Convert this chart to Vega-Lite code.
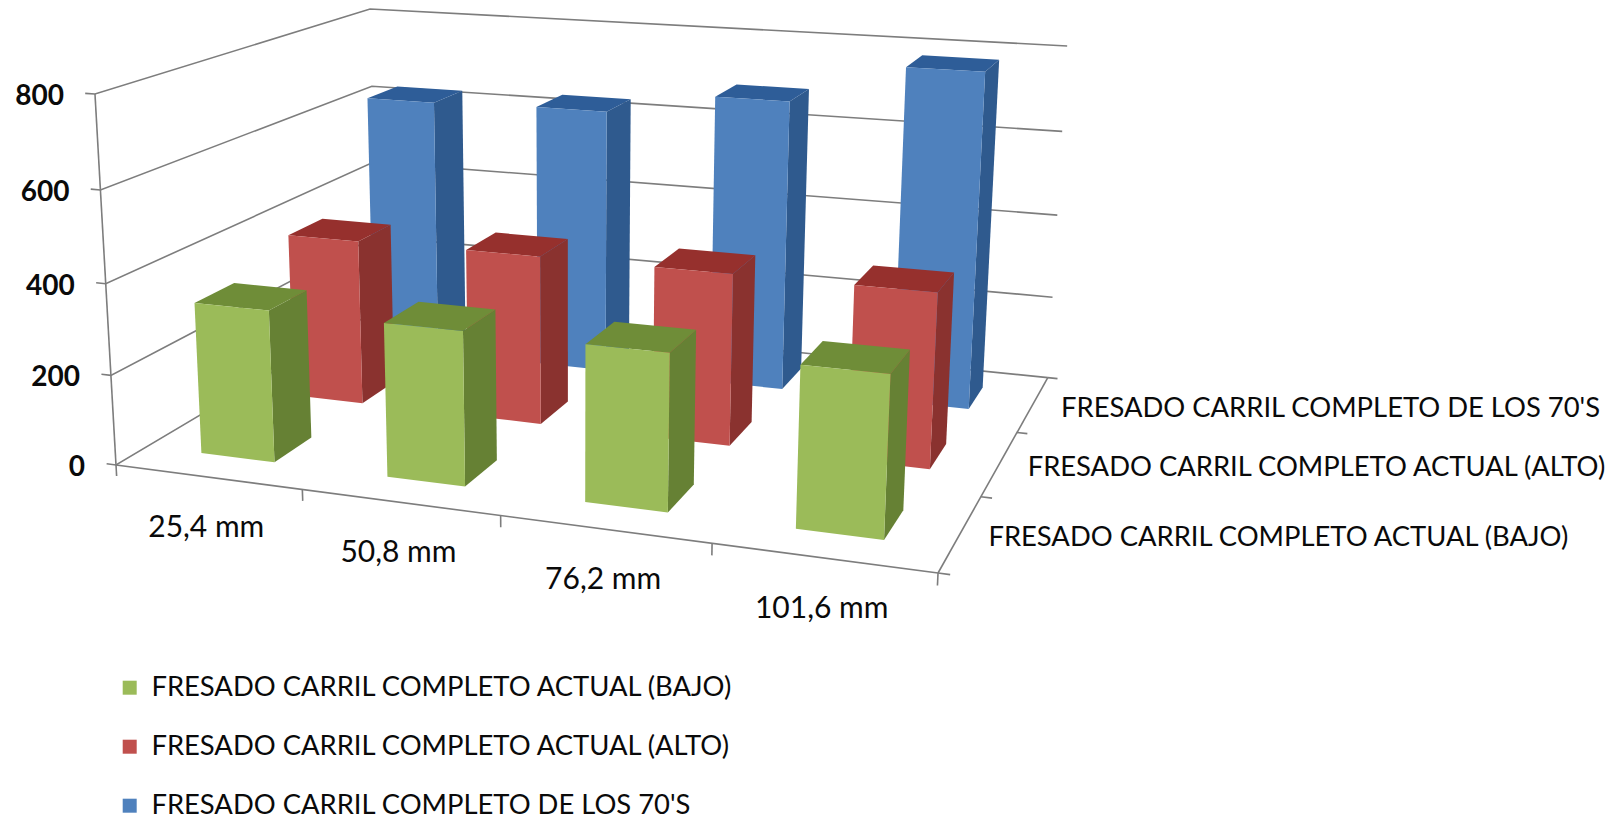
{
  "$schema": "https://vega.github.io/schema/vega-lite/v6.json",
  "width": 1623,
  "height": 817,
  "padding": 0,
  "autosize": "none",
  "background": "white",
  "config": {"view": {"stroke": null}, "text": {"font": "Lato", "color": "#0a0a0a"}},
  "layer": [
    {
      "data": {"values": [
        {"line":"grid 800","step":0,"u":-0.013,"v":0,"value":800},{"line":"grid 800","step":1,"u":0,"v":0,"value":800},{"line":"grid 800","step":2,"u":0,"v":1,"value":800},{"line":"grid 800","step":3,"u":1,"v":1,"value":800},
        {"line":"grid 600","step":0,"u":-0.013,"v":0,"value":600},{"line":"grid 600","step":1,"u":0,"v":0,"value":600},{"line":"grid 600","step":2,"u":0,"v":1,"value":600},{"line":"grid 600","step":3,"u":1,"v":1,"value":600},
        {"line":"grid 400","step":0,"u":-0.013,"v":0,"value":400},{"line":"grid 400","step":1,"u":0,"v":0,"value":400},{"line":"grid 400","step":2,"u":0,"v":1,"value":400},{"line":"grid 400","step":3,"u":1,"v":1,"value":400},
        {"line":"grid 200","step":0,"u":-0.013,"v":0,"value":200},{"line":"grid 200","step":1,"u":0,"v":0,"value":200},{"line":"grid 200","step":2,"u":0,"v":1,"value":200},{"line":"grid 200","step":3,"u":1,"v":1,"value":200},
        {"line":"grid 0","step":0,"u":-0.013,"v":0,"value":0},{"line":"grid 0","step":1,"u":0,"v":0,"value":0},{"line":"grid 0","step":2,"u":0,"v":1,"value":0},{"line":"grid 0","step":3,"u":1,"v":1,"value":0},
        {"line":"value axis","step":0,"u":0,"v":0,"value":0},{"line":"value axis","step":1,"u":0,"v":0,"value":800},
        {"line":"category axis","step":0,"u":0,"v":0,"value":0},{"line":"category axis","step":1,"u":1,"v":0,"value":0},
        {"line":"series axis","step":0,"u":1,"v":0,"value":0},{"line":"series axis","step":1,"u":1,"v":1,"value":0},
        {"line":"category tick 0","step":0,"u":0,"v":0,"value":0},{"line":"category tick 0","step":1,"u":0,"v":0,"value":-25},
        {"line":"category tick 1","step":0,"u":0.25,"v":0,"value":0},{"line":"category tick 1","step":1,"u":0.25,"v":0,"value":-25},
        {"line":"category tick 2","step":0,"u":0.5,"v":0,"value":0},{"line":"category tick 2","step":1,"u":0.5,"v":0,"value":-25},
        {"line":"category tick 3","step":0,"u":0.75,"v":0,"value":0},{"line":"category tick 3","step":1,"u":0.75,"v":0,"value":-25},
        {"line":"category tick 4","step":0,"u":1,"v":0,"value":0},{"line":"category tick 4","step":1,"u":1,"v":0,"value":-25},
        {"line":"series tick 0","step":0,"u":1,"v":0,"value":0},{"line":"series tick 0","step":1,"u":1.013,"v":0,"value":0},
        {"line":"series tick 1","step":0,"u":1,"v":0.3333,"value":0},{"line":"series tick 1","step":1,"u":1.013,"v":0.3333,"value":0},
        {"line":"series tick 2","step":0,"u":1,"v":0.6667,"value":0},{"line":"series tick 2","step":1,"u":1.013,"v":0.6667,"value":0},
        {"line":"series tick 3","step":0,"u":1,"v":1,"value":0},{"line":"series tick 3","step":1,"u":1.013,"v":1,"value":0}
      ]},
      "transform": [
        {"calculate": "datum.value/800", "as": "w"},
        {"calculate": "(116+708.9*datum.u+353.8*datum.v-25.2*datum.w)/(1-0.1206*datum.u+0.2455*datum.v-0.044*datum.w)", "as": "px"},
        {"calculate": "(465+38.9*datum.u-79.1*datum.v-375.1*datum.w)/(1-0.1206*datum.u+0.2455*datum.v-0.044*datum.w)", "as": "py"}
      ],
      "mark": {"type": "line", "color": "#7d7d7d", "strokeWidth": 1.6},
      "encoding": {
        "x": {"field": "px", "type": "quantitative", "axis": null, "scale": {"domain": [0, 1623], "nice": false, "zero": false}},
        "y": {"field": "py", "type": "quantitative", "axis": null, "scale": {"domain": [817, 0], "nice": false, "zero": false}},
        "detail": {"field": "line"},
        "order": {"field": "step", "type": "quantitative"}
      }
    },
    {
      "data": {"values": [
        {"category":"25,4 mm","serie":"FRESADO CARRIL COMPLETO DE LOS 70'S","valor":629},
        {"category":"50,8 mm","serie":"FRESADO CARRIL COMPLETO DE LOS 70'S","valor":635},
        {"category":"76,2 mm","serie":"FRESADO CARRIL COMPLETO DE LOS 70'S","valor":687},
        {"category":"101,6 mm","serie":"FRESADO CARRIL COMPLETO DE LOS 70'S","valor":781},
        {"category":"25,4 mm","serie":"FRESADO CARRIL COMPLETO ACTUAL (ALTO)","valor":385},
        {"category":"50,8 mm","serie":"FRESADO CARRIL COMPLETO ACTUAL (ALTO)","valor":388},
        {"category":"76,2 mm","serie":"FRESADO CARRIL COMPLETO ACTUAL (ALTO)","valor":388},
        {"category":"101,6 mm","serie":"FRESADO CARRIL COMPLETO ACTUAL (ALTO)","valor":388},
        {"category":"25,4 mm","serie":"FRESADO CARRIL COMPLETO ACTUAL (BAJO)","valor":337},
        {"category":"50,8 mm","serie":"FRESADO CARRIL COMPLETO ACTUAL (BAJO)","valor":336},
        {"category":"76,2 mm","serie":"FRESADO CARRIL COMPLETO ACTUAL (BAJO)","valor":335},
        {"category":"101,6 mm","serie":"FRESADO CARRIL COMPLETO ACTUAL (BAJO)","valor":338}
      ]},
      "transform": [
        {"calculate": "indexof(['25,4 mm','50,8 mm','76,2 mm','101,6 mm'],datum.category)", "as": "ci"},
        {"calculate": "indexof(['FRESADO CARRIL COMPLETO ACTUAL (BAJO)','FRESADO CARRIL COMPLETO ACTUAL (ALTO)',\"FRESADO CARRIL COMPLETO DE LOS 70'S\"],datum.serie)", "as": "si"},
        {"calculate": "[{face:'side',step:0,su:1,sv:-1,up:0},{face:'side',step:1,su:1,sv:1,up:0},{face:'side',step:2,su:1,sv:1,up:1},{face:'side',step:3,su:1,sv:-1,up:1},{face:'top',step:0,su:-1,sv:-1,up:1},{face:'top',step:1,su:1,sv:-1,up:1},{face:'top',step:2,su:1,sv:1,up:1},{face:'top',step:3,su:-1,sv:1,up:1},{face:'front',step:0,su:-1,sv:-1,up:0},{face:'front',step:1,su:1,sv:-1,up:0},{face:'front',step:2,su:1,sv:-1,up:1},{face:'front',step:3,su:-1,sv:-1,up:1}]", "as": "vertex"},
        {"flatten": ["vertex"]},
        {"calculate": "(datum.ci+0.5)/4+datum.vertex.su*0.05", "as": "u"},
        {"calculate": "(datum.si+0.5)/3+datum.vertex.sv*0.0667", "as": "v"},
        {"calculate": "datum.vertex.up*datum.valor/800", "as": "w"},
        {"calculate": "datum.vertex.step", "as": "step"},
        {"calculate": "datum.category+'|'+datum.si+'|'+datum.vertex.face", "as": "faceId"},
        {"calculate": "datum.vertex.face=='front'?datum.serie:datum.serie+'|'+datum.vertex.face", "as": "shade"},
        {"calculate": "(116+708.9*datum.u+353.8*datum.v-25.2*datum.w)/(1-0.1206*datum.u+0.2455*datum.v-0.044*datum.w)", "as": "px"},
        {"calculate": "(465+38.9*datum.u-79.1*datum.v-375.1*datum.w)/(1-0.1206*datum.u+0.2455*datum.v-0.044*datum.w)", "as": "py"}
      ],
      "mark": {"type": "line", "strokeWidth": 0},
      "encoding": {
        "x": {"field": "px", "type": "quantitative"},
        "y": {"field": "py", "type": "quantitative"},
        "detail": {"field": "faceId"},
        "order": {"field": "step", "type": "quantitative"},
        "fill": {
          "field": "shade",
          "type": "nominal",
          "scale": {
            "domain": [
              "FRESADO CARRIL COMPLETO ACTUAL (BAJO)",
              "FRESADO CARRIL COMPLETO ACTUAL (ALTO)",
              "FRESADO CARRIL COMPLETO DE LOS 70'S",
              "FRESADO CARRIL COMPLETO ACTUAL (BAJO)|side",
              "FRESADO CARRIL COMPLETO ACTUAL (ALTO)|side",
              "FRESADO CARRIL COMPLETO DE LOS 70'S|side",
              "FRESADO CARRIL COMPLETO ACTUAL (BAJO)|top",
              "FRESADO CARRIL COMPLETO ACTUAL (ALTO)|top",
              "FRESADO CARRIL COMPLETO DE LOS 70'S|top"
            ],
            "range": ["#9BBB59", "#C0504D", "#4F81BD", "#668134", "#8A322F", "#2F5A8E", "#6F8D38", "#96302D", "#2E5D98"]
          },
          "legend": {
            "title": null,
            "orient": "none",
            "legendX": 116,
            "legendY": 674,
            "padding": 0,
            "values": ["FRESADO CARRIL COMPLETO ACTUAL (BAJO)", "FRESADO CARRIL COMPLETO ACTUAL (ALTO)", "FRESADO CARRIL COMPLETO DE LOS 70'S"],
            "symbolType": "square",
            "symbolSize": 196,
            "symbolStrokeWidth": 0,
            "labelFont": "Lato",
            "labelFontSize": 27.4,
            "labelColor": "#0a0a0a",
            "labelLimit": 800,
            "labelOffset": 8,
            "rowPadding": 30
          }
        }
      }
    },
    {
      "data": {"values": [{"value":0},{"value":200},{"value":400},{"value":600},{"value":800}]},
      "transform": [
        {"calculate": "datum.value/800", "as": "w"},
        {"calculate": "(116-25.2*datum.w)/(1-0.044*datum.w)", "as": "px"},
        {"calculate": "(465-375.1*datum.w)/(1-0.044*datum.w)", "as": "py"}
      ],
      "mark": {"type": "text", "align": "right", "baseline": "middle", "dx": -31, "dy": 3, "fontSize": 28, "fontWeight": "bold"},
      "encoding": {
        "x": {"field": "px", "type": "quantitative"},
        "y": {"field": "py", "type": "quantitative"},
        "text": {"field": "value", "type": "quantitative", "format": "d"}
      }
    },
    {
      "data": {"values": [{"category":"25,4 mm"},{"category":"50,8 mm"},{"category":"76,2 mm"},{"category":"101,6 mm"}]},
      "transform": [
        {"calculate": "(indexof(['25,4 mm','50,8 mm','76,2 mm','101,6 mm'],datum.category)+0.5)/4", "as": "u"},
        {"calculate": "(116+708.9*datum.u)/(1-0.1206*datum.u)", "as": "px"},
        {"calculate": "(465+38.9*datum.u)/(1-0.1206*datum.u)", "as": "py"}
      ],
      "mark": {"type": "text", "align": "center", "baseline": "middle", "dx": -1.5, "dy": 51, "fontSize": 30},
      "encoding": {
        "x": {"field": "px", "type": "quantitative"},
        "y": {"field": "py", "type": "quantitative"},
        "text": {"field": "category", "type": "nominal"}
      }
    },
    {
      "data": {"values": [
        {"serie":"FRESADO CARRIL COMPLETO ACTUAL (BAJO)"},
        {"serie":"FRESADO CARRIL COMPLETO ACTUAL (ALTO)"},
        {"serie":"FRESADO CARRIL COMPLETO DE LOS 70'S"}
      ]},
      "transform": [
        {"calculate": "(indexof(['FRESADO CARRIL COMPLETO ACTUAL (BAJO)','FRESADO CARRIL COMPLETO ACTUAL (ALTO)',\"FRESADO CARRIL COMPLETO DE LOS 70'S\"],datum.serie)+0.5)/3", "as": "v"},
        {"calculate": "(116+708.9+353.8*datum.v)/(1-0.1206+0.2455*datum.v)", "as": "px"},
        {"calculate": "(465+38.9-79.1*datum.v)/(1-0.1206+0.2455*datum.v)", "as": "py"}
      ],
      "mark": {"type": "text", "align": "left", "baseline": "middle", "dx": 28, "dy": 4.5, "fontSize": 27.4},
      "encoding": {
        "x": {"field": "px", "type": "quantitative"},
        "y": {"field": "py", "type": "quantitative"},
        "text": {"field": "serie", "type": "nominal"}
      }
    }
  ]
}
